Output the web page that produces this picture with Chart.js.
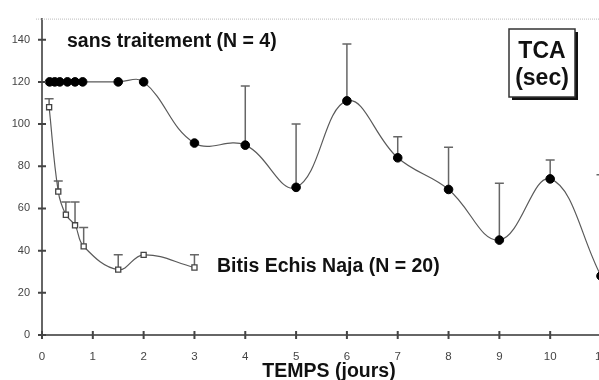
<!DOCTYPE html>
<html><head><meta charset="utf-8">
<script src="https://cdn.jsdelivr.net/npm/chart.js@4/dist/chart.umd.min.js"></script>
<style>
html,body{margin:0;padding:0;background:#fff;overflow:hidden;width:599px;height:380px}
#wrap{position:absolute;left:0;top:0;width:640px;height:380px}
</style>
</head><body>
<div id="wrap"><canvas id="c" width="640" height="380"></canvas></div>
<script>
// ---- data ----
const sansDays   = [0.15, 0.25, 0.35, 0.5, 0.65, 0.8, 1.5, 2, 3, 4, 5, 6, 7, 8, 9, 10, 11];
const sansTCA    = [120, 120, 120, 120, 120, 120, 120, 120, 91, 90, 70, 111, 84, 69, 45, 74, 28];
const sansErrTop = [null, null, null, null, null, null, null, null, null, 118, 100, 138, 94, 89, 72, 83, 76];

const bitisDays   = [0.14, 0.32, 0.47, 0.65, 0.82, 1.5, 2, 3];
const bitisTCA    = [108, 68, 57, 52, 42, 31, 38, 32];
const bitisErrTop = [112, 73, 63, 63, 51, 38, null, 38];

const xTicks = [0,1,2,3,4,5,6,7,8,9,10,11];
const yTicks = [0,20,40,60,80,100,120,140];

const sansLabel  = 'sans traitement (N = 4)';
const bitisLabel = 'Bitis Echis Naja (N = 20)';
const xTitle     = 'TEMPS (jours)';
const boxLine1   = 'TCA';
const boxLine2   = '(sec)';

const toPts = (xs, ys) => xs.map((x, i) => ({x: x, y: ys[i]}));

const LINE = '#5a5a5a';
const AXIS = '#666';

const decor = {
  id: 'decor',
  beforeDatasetsDraw(chart) {
    const ctx = chart.ctx, xs = chart.scales.x, ys = chart.scales.y;
    ctx.save();
    ctx.strokeStyle = '#666';
    ctx.lineWidth = 1.5;
    const sets = [[sansDays, sansTCA, sansErrTop], [bitisDays, bitisTCA, bitisErrTop]];
    sets.forEach(([d, v, e]) => {
      d.forEach((day, i) => {
        if (e[i] == null) return;
        const px = xs.getPixelForValue(day);
        const y1 = ys.getPixelForValue(v[i]);
        const y2 = ys.getPixelForValue(e[i]);
        ctx.beginPath();
        ctx.moveTo(px, y1); ctx.lineTo(px, y2);
        ctx.moveTo(px - 4.5, y2); ctx.lineTo(px + 4.5, y2);
        ctx.stroke();
      });
    });
    ctx.restore();
  },
  afterDraw(chart) {
    const ctx = chart.ctx, xs = chart.scales.x, ys = chart.scales.y, a = chart.chartArea;
    ctx.save();
    // dotted top frame
    ctx.strokeStyle = '#bbb';
    ctx.lineWidth = 1;
    ctx.setLineDash([1, 1]);
    ctx.beginPath();
    ctx.moveTo(36, a.top + 0.5); ctx.lineTo(640, a.top + 0.5);
    ctx.stroke();
    ctx.setLineDash([]);
    // crossing tick marks
    ctx.strokeStyle = '#444';
    ctx.lineWidth = 2;
    ctx.beginPath();
    yTicks.forEach(t => {
      const py = ys.getPixelForValue(t);
      ctx.moveTo(a.left - 4, py); ctx.lineTo(a.left + 4, py);
    });
    xTicks.forEach(t => {
      const px = xs.getPixelForValue(t);
      ctx.moveTo(px, a.bottom - 4); ctx.lineTo(px, a.bottom + 4);
    });
    ctx.stroke();
    // texts
    ctx.fillStyle = '#111';
    ctx.textBaseline = 'alphabetic';
    ctx.font = 'bold 19.5px "Liberation Sans", Arial, sans-serif';
    ctx.textAlign = 'left';
    ctx.fillText(sansLabel, 67, 47);
    ctx.fillText(bitisLabel, 217, 272);
    ctx.textAlign = 'center';
    ctx.fillText(xTitle, 329, 377);
    // TCA box with shadow
    const bx = 509, by = 29, bw = 66, bh = 68;
    ctx.fillStyle = '#111';
    ctx.fillRect(bx + 3, by + 3, bw, bh);
    ctx.fillStyle = '#fff';
    ctx.fillRect(bx, by, bw, bh);
    ctx.strokeStyle = '#333';
    ctx.lineWidth = 1.5;
    ctx.strokeRect(bx, by, bw, bh);
    ctx.fillStyle = '#111';
    ctx.font = 'bold 23px "Liberation Sans", Arial, sans-serif';
    ctx.fillText(boxLine1, bx + bw / 2, 58);
    ctx.fillText(boxLine2, bx + bw / 2, 85);
    ctx.restore();
  }
};

new Chart(document.getElementById('c'), {
  type: 'line',
  data: {
    datasets: [
      {
        label: sansLabel,
        data: toPts(sansDays, sansTCA),
        borderColor: LINE,
        borderWidth: 1.2,
        tension: 0.4,
        pointStyle: 'circle',
        pointRadius: 4.3,
        pointBackgroundColor: '#000',
        pointBorderColor: '#000',
        pointBorderWidth: 1
      },
      {
        label: bitisLabel,
        data: toPts(bitisDays, bitisTCA),
        borderColor: LINE,
        borderWidth: 1.2,
        tension: 0.4,
        pointStyle: 'rect',
        pointRadius: 3.6,
        pointBackgroundColor: '#fff',
        pointBorderColor: '#444',
        pointBorderWidth: 1.3
      }
    ]
  },
  options: {
    responsive: false,
    animation: false,
    events: [],
    layout: {padding: {left: 0, top: 13, right: 39, bottom: 0}},
    plugins: {legend: {display: false}, tooltip: {enabled: false}},
    scales: {
      x: {
        type: 'linear', min: 0, max: 11,
        afterBuildTicks: s => { s.ticks = xTicks.map(v => ({value: v})); },
        afterFit: s => { s.height = 45; },
        grid: {display: false, drawTicks: false},
        border: {display: true, color: AXIS, width: 2},
        ticks: {padding: 15, color: '#444', font: {family: 'Liberation Sans', size: 11.5}, maxRotation: 0, autoSkip: false}
      },
      y: {
        type: 'linear', min: 0, max: 150,
        afterBuildTicks: s => { s.ticks = yTicks.map(v => ({value: v})); },
        afterFit: s => { s.width = 42; },
        grid: {display: false, drawTicks: false},
        border: {display: true, color: AXIS, width: 2},
        ticks: {padding: 12, color: '#444', font: {family: 'Liberation Sans', size: 11}, autoSkip: false}
      }
    }
  },
  plugins: [decor]
});
</script>
</body></html>
